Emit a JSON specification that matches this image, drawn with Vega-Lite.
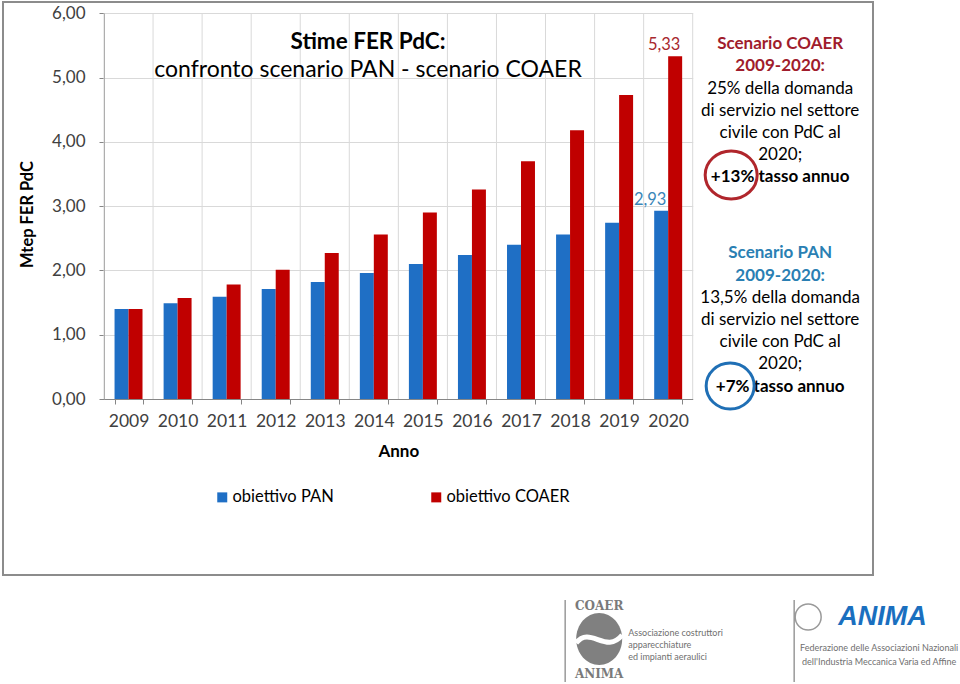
{
  "$schema": "https://vega.github.io/schema/vega-lite/v6.json",
  "width": 870,
  "height": 573,
  "autosize": "none",
  "padding": {"left": 3, "top": 2, "right": 87, "bottom": 109},
  "background": "white",
  "config": {
    "locale": {"number": {"decimal": ",", "thousands": ".", "grouping": [3], "currency": ["", " €"]}},
    "font": "Lato",
    "view": {"stroke": "#8c8c8c", "strokeWidth": 2}
  },
  "title": {
    "text": "Stime FER PdC:",
    "subtitle": "confronto scenario PAN - scenario COAER",
    "anchor": "middle",
    "frame": "group",
    "dx": -70,
    "offset": -80,
    "font": "Lato",
    "fontSize": 22.5,
    "fontWeight": "bold",
    "color": "#000000",
    "subtitleFont": "Lato",
    "subtitleFontSize": 23,
    "subtitleColor": "#000000",
    "subtitlePadding": 6
  },
  "datasets": {
    "bars": [
      {"Anno": "2009", "serie": "obiettivo PAN", "valore": 1.40},
      {"Anno": "2010", "serie": "obiettivo PAN", "valore": 1.49},
      {"Anno": "2011", "serie": "obiettivo PAN", "valore": 1.59},
      {"Anno": "2012", "serie": "obiettivo PAN", "valore": 1.71},
      {"Anno": "2013", "serie": "obiettivo PAN", "valore": 1.82},
      {"Anno": "2014", "serie": "obiettivo PAN", "valore": 1.96},
      {"Anno": "2015", "serie": "obiettivo PAN", "valore": 2.10},
      {"Anno": "2016", "serie": "obiettivo PAN", "valore": 2.24},
      {"Anno": "2017", "serie": "obiettivo PAN", "valore": 2.40},
      {"Anno": "2018", "serie": "obiettivo PAN", "valore": 2.56},
      {"Anno": "2019", "serie": "obiettivo PAN", "valore": 2.74},
      {"Anno": "2020", "serie": "obiettivo PAN", "valore": 2.93},
      {"Anno": "2009", "serie": "obiettivo COAER", "valore": 1.40},
      {"Anno": "2010", "serie": "obiettivo COAER", "valore": 1.57},
      {"Anno": "2011", "serie": "obiettivo COAER", "valore": 1.78},
      {"Anno": "2012", "serie": "obiettivo COAER", "valore": 2.01},
      {"Anno": "2013", "serie": "obiettivo COAER", "valore": 2.27},
      {"Anno": "2014", "serie": "obiettivo COAER", "valore": 2.56},
      {"Anno": "2015", "serie": "obiettivo COAER", "valore": 2.90},
      {"Anno": "2016", "serie": "obiettivo COAER", "valore": 3.26},
      {"Anno": "2017", "serie": "obiettivo COAER", "valore": 3.70},
      {"Anno": "2018", "serie": "obiettivo COAER", "valore": 4.18},
      {"Anno": "2019", "serie": "obiettivo COAER", "valore": 4.73},
      {"Anno": "2020", "serie": "obiettivo COAER", "valore": 5.33}
    ],
    "coaerHead": [
      {"testo": "Scenario COAER", "valore": 5.518},
      {"testo": "2009-2020:", "valore": 5.173}
    ],
    "panHead": [
      {"testo": "Scenario PAN", "valore": 2.267},
      {"testo": "2009-2020:", "valore": 1.921}
    ],
    "body": [
      {"testo": "25% della domanda", "valore": 4.829},
      {"testo": "di servizio nel settore", "valore": 4.485},
      {"testo": "civile con PdC al", "valore": 4.141},
      {"testo": "2020;", "valore": 3.797},
      {"testo": "13,5% della domanda", "valore": 1.576},
      {"testo": "di servizio nel settore", "valore": 1.231},
      {"testo": "civile con PdC al", "valore": 0.885},
      {"testo": "2020;", "valore": 0.540}
    ],
    "rate": [
      {"testo": "+13% tasso annuo", "valore": 3.454},
      {"testo": "+7% tasso annuo", "valore": 0.194}
    ],
    "coaerRing": [{"valore": 3.485}],
    "panRing": [{"valore": 0.202}],
    "logoLines": [{"valore": -3.765}],
    "coaerDisc": [{"valore": -3.734}],
    "coaerLogoText": [
      {"testo": "COAER", "valore": -3.22},
      {"testo": "ANIMA", "valore": -4.278}
    ],
    "coaerCaption": [
      {"testo": "Associazione costruttori", "valore": -3.64},
      {"testo": "apparecchiature", "valore": -3.827},
      {"testo": "ed impianti aeraulici", "valore": -4.014}
    ],
    "animaMark": [{"testo": "ANIMA", "valore": -3.391}],
    "animaCaption": [
      {"testo": "Federazione delle Associazioni Nazionali", "valore": -3.874},
      {"testo": "dell'Industria Meccanica Varia ed Affine", "valore": -4.092}
    ]
  },
  "layer": [
    {
      "data": {"name": "bars"},
      "mark": {"type": "bar"},
      "encoding": {
        "x": {
          "field": "Anno", "type": "ordinal", "title": "Anno",
          "scale": {"range": [101, 689.7], "paddingInner": 0.43, "paddingOuter": 0.215},
          "axis": {
            "orient": "bottom", "offset": -176, "tickBand": "extent", "grid": false,
            "domainColor": "#868686", "tickColor": "#868686", "tickSize": 5,
            "labelAngle": 0, "labelFont": "Lato", "labelFontSize": 17.5, "labelColor": "#404040", "labelPadding": 8,
            "titleFont": "Lato", "titleFontSize": 17, "titleFontWeight": "bold", "titleColor": "#000000", "titlePadding": 14
          }
        },
        "xOffset": {"field": "serie", "type": "nominal", "scale": {"domain": ["obiettivo PAN", "obiettivo COAER"]}},
        "y": {
          "field": "valore", "type": "quantitative", "title": "Mtep FER PdC",
          "scale": {"domain": [0, 6], "range": [397, 11.3], "nice": false, "zero": true},
          "axis": {
            "format": ".2f", "values": [0, 1, 2, 3, 4, 5, 6], "offset": -101,
            "grid": true, "gridColor": "#d9d9d9", "domainColor": "#868686", "tickColor": "#868686", "tickSize": 5,
            "labelFont": "Lato", "labelFontSize": 17, "labelColor": "#404040", "labelPadding": 14,
            "titleFont": "Lato", "titleFontSize": 16.5, "titleFontWeight": "bold", "titleColor": "#000000",
            "titlePadding": 16, "titleY": 212
          }
        },
        "color": {
          "field": "serie", "type": "nominal",
          "scale": {"domain": ["obiettivo PAN", "obiettivo COAER"], "range": ["#1f6fc5", "#c00000"]},
          "legend": {
            "title": null, "orient": "none", "legendX": 211, "legendY": 487, "direction": "horizontal",
            "symbolType": "square", "symbolSize": 100, "symbolStrokeWidth": 0, "labelOffset": 2,
            "labelFont": "Lato", "labelFontSize": 16.5, "labelColor": "#000000", "columnPadding": 94
          }
        }
      }
    },
    {
      "data": {"name": "bars"},
      "transform": [{"filter": "datum.serie == 'obiettivo PAN'"}],
      "mark": {"type": "rule", "color": "#d9d9d9", "strokeWidth": 1},
      "encoding": {
        "x": {"field": "Anno", "type": "ordinal", "title": "Anno", "bandPosition": -0.3772},
        "y": {"datum": 0, "type": "quantitative", "title": "Mtep FER PdC"},
        "y2": {"datum": 6}
      }
    },
    {
      "data": {"name": "bars"},
      "transform": [{"filter": "datum.serie == 'obiettivo PAN' && datum.Anno == '2020'"}],
      "mark": {"type": "rule", "color": "#d9d9d9", "strokeWidth": 1},
      "encoding": {
        "x": {"field": "Anno", "type": "ordinal", "title": "Anno", "bandPosition": 1.3772},
        "y": {"datum": 0, "type": "quantitative", "title": "Mtep FER PdC"},
        "y2": {"datum": 6}
      }
    },
    {
      "data": {"name": "bars"},
      "transform": [{"filter": "datum.Anno == '2020' && datum.serie == 'obiettivo PAN'"}],
      "mark": {"type": "text", "baseline": "bottom", "dy": -3, "dx": -11, "fontSize": 16.5, "color": "#3a86b8"},
      "encoding": {
        "x": {"field": "Anno", "type": "ordinal", "title": "Anno"},
        "xOffset": {"field": "serie", "type": "nominal", "scale": {"domain": ["obiettivo PAN", "obiettivo COAER"]}},
        "y": {"field": "valore", "type": "quantitative", "title": "Mtep FER PdC"},
        "text": {"field": "valore", "type": "quantitative", "format": ".2f"}
      }
    },
    {
      "data": {"name": "bars"},
      "transform": [{"filter": "datum.Anno == '2020' && datum.serie == 'obiettivo COAER'"}],
      "mark": {"type": "text", "baseline": "bottom", "dy": -3, "dx": -11, "fontSize": 16.5, "color": "#a8282e"},
      "encoding": {
        "x": {"field": "Anno", "type": "ordinal", "title": "Anno"},
        "xOffset": {"field": "serie", "type": "nominal", "scale": {"domain": ["obiettivo PAN", "obiettivo COAER"]}},
        "y": {"field": "valore", "type": "quantitative", "title": "Mtep FER PdC"},
        "text": {"field": "valore", "type": "quantitative", "format": ".2f"}
      }
    },
    {
      "data": {"name": "coaerHead"},
      "mark": {"type": "text", "align": "center", "baseline": "middle", "dx": 112, "fontSize": 17, "fontWeight": "bold", "color": "#a01c2c"},
      "encoding": {
        "x": {"datum": "2020", "type": "ordinal", "title": "Anno"},
        "y": {"field": "valore", "type": "quantitative", "title": "Mtep FER PdC"},
        "text": {"field": "testo"}
      }
    },
    {
      "data": {"name": "panHead"},
      "mark": {"type": "text", "align": "center", "baseline": "middle", "dx": 112, "fontSize": 17, "fontWeight": "bold", "color": "#2a7fb3"},
      "encoding": {
        "x": {"datum": "2020", "type": "ordinal", "title": "Anno"},
        "y": {"field": "valore", "type": "quantitative", "title": "Mtep FER PdC"},
        "text": {"field": "testo"}
      }
    },
    {
      "data": {"name": "body"},
      "mark": {"type": "text", "align": "center", "baseline": "middle", "dx": 112, "fontSize": 17, "color": "#000000"},
      "encoding": {
        "x": {"datum": "2020", "type": "ordinal", "title": "Anno"},
        "y": {"field": "valore", "type": "quantitative", "title": "Mtep FER PdC"},
        "text": {"field": "testo"}
      }
    },
    {
      "data": {"name": "rate"},
      "mark": {"type": "text", "align": "center", "baseline": "middle", "dx": 112, "fontSize": 17, "fontWeight": "bold", "color": "#000000"},
      "encoding": {
        "x": {"datum": "2020", "type": "ordinal", "title": "Anno"},
        "y": {"field": "valore", "type": "quantitative", "title": "Mtep FER PdC"},
        "text": {"field": "testo"}
      }
    },
    {
      "data": {"name": "coaerRing"},
      "mark": {"type": "point", "shape": "M 89,0 A 26,24 0 1,1 37,0 A 26,24 0 1,1 89,0 Z", "size": 4, "filled": false, "color": "#b0262c", "strokeWidth": 3, "opacity": 1},
      "encoding": {
        "x": {"datum": "2020", "type": "ordinal", "title": "Anno"},
        "y": {"field": "valore", "type": "quantitative", "title": "Mtep FER PdC"}
      }
    },
    {
      "data": {"name": "panRing"},
      "mark": {"type": "point", "shape": "M 86,0 A 24,23 0 1,1 38,0 A 24,23 0 1,1 86,0 Z", "size": 4, "filled": false, "color": "#1f6fb5", "strokeWidth": 3, "opacity": 1},
      "encoding": {
        "x": {"datum": "2020", "type": "ordinal", "title": "Anno"},
        "y": {"field": "valore", "type": "quantitative", "title": "Mtep FER PdC"}
      }
    },
    {
      "data": {"name": "logoLines"},
      "mark": {"type": "point", "shape": "M -103,-41 L -103,41 M 126,-41 L 126,41 M 153,-24 A 13,13 0 1,1 127,-24 A 13,13 0 1,1 153,-24 Z", "size": 4, "filled": false, "color": "#9a9a9a", "strokeWidth": 1.5, "opacity": 1},
      "encoding": {
        "x": {"datum": "2020", "type": "ordinal", "title": "Anno"},
        "y": {"field": "valore", "type": "quantitative", "title": "Mtep FER PdC"}
      }
    },
    {
      "data": {"name": "coaerDisc"},
      "mark": {"type": "point", "shape": "M -46,0 A 23,26 0 1,1 -92,0 A 23,26 0 1,1 -46,0 Z", "size": 4, "filled": true, "color": "#808080", "strokeWidth": 0, "opacity": 1},
      "encoding": {
        "x": {"datum": "2020", "type": "ordinal", "title": "Anno"},
        "y": {"field": "valore", "type": "quantitative", "title": "Mtep FER PdC"}
      }
    },
    {
      "data": {"name": "coaerDisc"},
      "mark": {"type": "point", "shape": "M -92,4 C -78,-14 -62,16 -46,-4", "size": 4, "filled": false, "color": "#ffffff", "strokeWidth": 5, "opacity": 1},
      "encoding": {
        "x": {"datum": "2020", "type": "ordinal", "title": "Anno"},
        "y": {"field": "valore", "type": "quantitative", "title": "Mtep FER PdC"}
      }
    },
    {
      "data": {"name": "coaerLogoText"},
      "mark": {"type": "text", "align": "center", "baseline": "middle", "dx": -69, "fontSize": 12, "fontWeight": "bold", "font": "DejaVu Serif", "color": "#7a7a7a"},
      "encoding": {
        "x": {"datum": "2020", "type": "ordinal", "title": "Anno"},
        "y": {"field": "valore", "type": "quantitative", "title": "Mtep FER PdC"},
        "text": {"field": "testo"}
      }
    },
    {
      "data": {"name": "coaerCaption"},
      "mark": {"type": "text", "align": "left", "baseline": "middle", "dx": -40, "fontSize": 9, "color": "#707070"},
      "encoding": {
        "x": {"datum": "2020", "type": "ordinal", "title": "Anno"},
        "y": {"field": "valore", "type": "quantitative", "title": "Mtep FER PdC"},
        "text": {"field": "testo"}
      }
    },
    {
      "data": {"name": "animaMark"},
      "mark": {"type": "text", "align": "left", "baseline": "middle", "dx": 170, "fontSize": 27, "fontWeight": "bold", "fontStyle": "italic", "font": "Liberation Sans", "color": "#1a6fbf"},
      "encoding": {
        "x": {"datum": "2020", "type": "ordinal", "title": "Anno"},
        "y": {"field": "valore", "type": "quantitative", "title": "Mtep FER PdC"},
        "text": {"field": "testo"}
      }
    },
    {
      "data": {"name": "animaCaption"},
      "mark": {"type": "text", "align": "center", "baseline": "middle", "dx": 211, "fontSize": 9, "color": "#707070"},
      "encoding": {
        "x": {"datum": "2020", "type": "ordinal", "title": "Anno"},
        "y": {"field": "valore", "type": "quantitative", "title": "Mtep FER PdC"},
        "text": {"field": "testo"}
      }
    }
  ]
}
